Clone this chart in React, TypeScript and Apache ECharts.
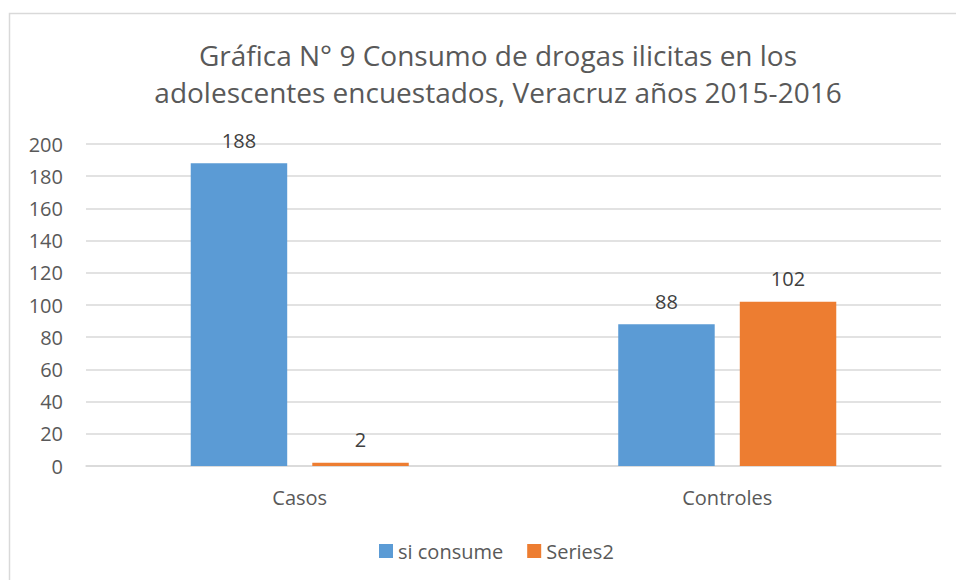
import React, { useEffect, useRef } from "react";
import * as echarts from "echarts";

const categories = ["Casos", "Controles"];
const siConsume = [188, 88];
const series2 = [2, 102];
const yTicks = { min: 0, max: 200, interval: 20 };
const titleText = "Gráfica N° 9 Consumo de drogas ilicitas en los\nadolescentes encuestados, Veracruz años 2015-2016";
const seriesNames = ["si consume", "Series2"];

const FONT = "'Open Sans', 'Noto Sans', sans-serif";

export default function App() {
  const ref = useRef<HTMLDivElement>(null);
  useEffect(() => {
    if (!ref.current) return;
    const chart = echarts.init(ref.current, undefined, { renderer: "svg" });
    chart.setOption({
      animation: false,
      backgroundColor: "#ffffff",
      textStyle: { fontFamily: FONT },
      title: {
        text: titleText,
        left: 493,
        top: 31,
        textAlign: "center",
        textStyle: {
          fontFamily: FONT,
          fontSize: 28,
          fontWeight: "normal",
          color: "#595959",
          lineHeight: 37,
        },
      },
      graphic: [
        {
          type: "rect",
          shape: { x: 9.5, y: 13.5, width: 1000, height: 700 },
          style: { fill: "none", stroke: "#D9D9D9", lineWidth: 1.5 },
          silent: true,
        },
      ],
      legend: {
        bottom: 14,
        left: 374,
        itemWidth: 14,
        itemHeight: 14,
        itemGap: 24,
        icon: "rect",
        textStyle: { fontFamily: FONT, fontSize: 20, color: "#595959" },
        data: seriesNames,
      },
      grid: { left: 86, right: 15, top: 144, bottom: 114, containLabel: false },
      xAxis: {
        type: "category",
        data: categories,
        axisLine: { show: true, lineStyle: { color: "#D9D9D9", width: 1.5 } },
        axisTick: { show: false },
        axisLabel: { fontFamily: FONT, fontSize: 20, color: "#595959", margin: 21 },
      },
      yAxis: {
        type: "value",
        min: yTicks.min,
        max: yTicks.max,
        interval: yTicks.interval,
        axisLine: { show: false },
        axisTick: { show: false },
        splitLine: { lineStyle: { color: "#D9D9D9", width: 1.5 } },
        axisLabel: { fontFamily: FONT, fontSize: 20, color: "#595959", margin: 23 },
      },
      series: [
        {
          name: seriesNames[0],
          type: "bar",
          data: siConsume,
          itemStyle: { color: "#5B9BD5" },
          barGap: "26%",
          barCategoryGap: "49%",
          label: { show: true, position: "top", distance: 13, fontFamily: FONT, fontSize: 20, color: "#404040" },
        },
        {
          name: seriesNames[1],
          type: "bar",
          data: series2,
          itemStyle: { color: "#ED7D31" },
          barGap: "26%",
          barCategoryGap: "49%",
          label: { show: true, position: "top", distance: 13, fontFamily: FONT, fontSize: 20, color: "#404040" },
        },
      ],
    });
    return () => chart.dispose();
  }, []);
  return (
    <div
      ref={ref}
      style={{ position: "fixed", left: 0, top: 0, width: 956, height: 580, background: "#fff" }}
    />
  );
}
